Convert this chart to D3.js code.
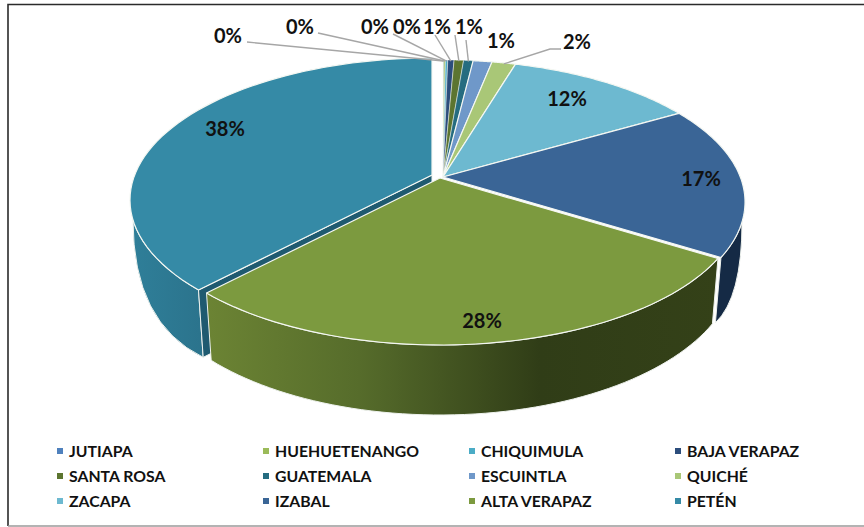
<!DOCTYPE html>
<html>
<head>
<meta charset="utf-8">
<script src="https://cdnjs.cloudflare.com/ajax/libs/d3/7.8.5/d3.min.js"></script>
<style>
    html, body { margin: 0; padding: 0; background: #fff; }
    svg { display: block; }
    text { font-family: Lato, "Noto Sans", sans-serif; font-weight: 700; fill: #111; }
    .legend text { font-size: 15.8px; }
    .pct { font-size: 20px; text-anchor: middle; }
    .leader { fill: none; stroke: #a6a6a6; stroke-width: 1.4; }
    .top { stroke: #f4f7f2; stroke-linejoin: round; }
</style>
</head>
<body>
<svg id="graph" width="864" height="527"></svg>
<script>
var departments = ["JUTIAPA", "HUEHUETENANGO", "CHIQUIMULA", "BAJA VERAPAZ", "SANTA ROSA", "GUATEMALA",
    "ESCUINTLA", "QUICHÉ", "ZACAPA", "IZABAL", "ALTA VERAPAZ", "PETÉN"];
var shares = [0.05, 0.1, 0.15, 0.4, 0.6, 0.6, 1.2, 1.5, 12, 17.3, 28.1, 38];
var colors = ["#4f81bd", "#9bbb59", "#4bacc6", "#2c4d7c", "#5c7530", "#256c80",
    "#6f98c9", "#a9c777", "#6db9d0", "#3a6596", "#7c9a3f", "#358aa6"];

var graph = (function () {
    var svg = d3.select("svg#graph"),
        center = {x: 443, y: 177},
        a = 297.3, b = 137.6, k = 0.176,   // tilted disc: widths, heights and perspective
        shrink = 0.98;

    // Layout of the data labels, same order as the slices
    var labelSpots = [
        {x: 228, y: 43, line: [[247, 42]]},
        {x: 300, y: 34, line: [[318, 33]]},
        {x: 375, y: 34, line: [[393, 34]]},
        {x: 407, y: 34, line: [[435, 35]]},
        {x: 437, y: 34, line: [[455, 35]]},
        {x: 469, y: 34, line: [[466, 40]]},
        {x: 501, y: 48, line: null},
        {x: 577, y: 49, line: [[561, 49], [550, 49]]},
        {x: 567, y: 106}, {x: 701, y: 186}, {x: 482, y: 328}, {x: 225, y: 136}
    ];

    // Slices pulled out of the pie
    var offsets = {"ALTA VERAPAZ": [-3, 1], "PETÉN": [-11, -2]};

    // side walls are a bit taller toward the viewer
    function wallDepth(angle) {
        return 60 - 10 * Math.cos(angle);
    }

    function project(angle, radius, off, low) {
        var w = 1 + k * Math.cos(angle) * radius,
            px = a * Math.sin(angle) * radius / w,
            py = -b * Math.cos(angle) * radius / w;
        if (low) {
            return [center.x + off[0] + px * shrink, center.y + off[1] + py + wallDepth(angle)];
        }
        return [center.x + off[0] + px, center.y + off[1] + py];
    }

    function rimBetween(from, to, off, low) {
        return d3.range(0, 61).map(function (i) {
            return project(from + (to - from) * i / 60, 1, off, low);
        });
    }

    function rad(deg) {
        return deg * Math.PI / 180;
    }

    function create() {
        var line = d3.line();
        var arcs = d3.pie().sort(null).value(function (d) { return d; })(shares);
        var defs = svg.append("defs");

        arcs.forEach(function (d, i) {
            d.name = departments[i];
            d.off = offsets[d.name] || [0, 0];
            d.color = colors[i];
        });

        var izabal = arcs[9], alta = arcs[10], peten = arcs[11];

        function gradient(id, x1, x2, stops) {
            var g = defs.append("linearGradient").attr("id", id)
                .attr("gradientUnits", "userSpaceOnUse")
                .attr("x1", x1).attr("x2", x2).attr("y1", 0).attr("y2", 0);
            stops.forEach(function (s) {
                g.append("stop").attr("offset", s[0]).attr("stop-color", s[1]);
            });
        }
        gradient("wallAlta", 205, 720, [[0, "#6c8434"], [0.3, "#566c2b"], [0.65, "#303d17"], [1, "#344118"]]);
        gradient("wallPeten", 130, 205, [[0, "#2f7f99"], [1, "#2b738c"]]);

        function wall(d, fill) {
            var pts = rimBetween(d.startAngle, d.endAngle, d.off, false)
                .concat(rimBetween(d.startAngle, d.endAngle, d.off, true).reverse());
            svg.append("path").attr("d", line(pts) + "Z").attr("fill", fill)
                .attr("stroke", "#eef2ee").attr("stroke-width", 1);
        }

        // wall that runs out at the side of the pie: outer edge is one curve from the
        // bottom corner back up to the rim
        function sideWall(d, fill, cornerAngle, sideAngle) {
            var corner = project(cornerAngle, 1, d.off, true),
                side = project(sideAngle, 1, d.off, false),
                path = d3.path();
            rimBetween(sideAngle, cornerAngle, d.off, false).forEach(function (p, i) {
                if (i === 0) {
                    path.moveTo(p[0], p[1]);
                } else {
                    path.lineTo(p[0], p[1]);
                }
            });
            path.lineTo(corner[0], corner[1]);
            path.quadraticCurveTo(side[0], side[1] + 0.75 * (corner[1] - side[1]), side[0], side[1]);
            path.closePath();
            svg.append("path").attr("d", path.toString()).attr("fill", fill)
                .attr("stroke", "#eef2ee").attr("stroke-width", 1);
        }

        sideWall(peten, "url(#wallPeten)", peten.startAngle, rad(252));
        sideWall(izabal, "#152a45", izabal.endAngle, rad(108));

        // cut face of Petén that shows between it and Alta Verapaz
        var face = [
            project(0, 0, peten.off, false),
            project(peten.startAngle, 1, peten.off, false),
            project(peten.startAngle, 1, peten.off, true),
            project(peten.startAngle, 0, peten.off, true)
        ];
        svg.append("path").attr("d", line(face) + "Z").attr("fill", "#1f5a70")
            .attr("stroke", "#eef2ee").attr("stroke-width", 1);

        wall(alta, "url(#wallAlta)");

        // top faces
        svg.selectAll("path.top")
            .data(arcs)
            .enter().append("path")
            .attr("class", "top")
            .attr("fill", function (d) { return d.color; })
            .attr("stroke-width", function (d) { return d.value < 1 ? 0.5 : 1.2; })
            .attr("d", function (d) {
                return line([project(0, 0, d.off, false)]
                    .concat(rimBetween(d.startAngle, d.endAngle, d.off, false))) + "Z";
            });

        // leaders
        arcs.forEach(function (d, i) {
            var spot = labelSpots[i];
            if (spot.line) {
                var mid = (d.startAngle + d.endAngle) / 2;
                var end = project(mid, 1, d.off, false);
                svg.append("path").attr("class", "leader")
                    .attr("d", line(spot.line.concat([[end[0], end[1] + 1]])));
            }
            svg.append("text").attr("class", "pct")
                .attr("x", spot.x).attr("y", spot.y)
                .text(Math.round(d.value) + "%");
        });

        // Legend
        var col = d3.scaleOrdinal().domain([0, 1, 2, 3]).range([57, 263, 469, 675]),
            row = d3.scaleOrdinal().domain([0, 1, 2]).range([451, 476, 501]);

        var items = svg.append("g").attr("class", "legend")
            .selectAll("g").data(departments).enter().append("g")
            .attr("transform", function (d, i) {
                return "translate(" + col(i % 4) + "," + row(Math.floor(i / 4)) + ")";
            });
        items.append("rect").attr("x", 0).attr("y", -3).attr("width", 6).attr("height", 6)
            .attr("fill", function (d, i) { return colors[i]; });
        items.append("text").attr("x", 12).attr("y", 5.5).text(function (d) { return d; });

        // Chart frame: open on the right, as in the screenshot
        svg.append("path").attr("d", "M864,4.5H8V526").attr("fill", "none")
            .attr("stroke", "#2b2b2b").attr("stroke-width", 1.6);
        svg.append("path").attr("d", "M8,526H864").attr("fill", "none")
            .attr("stroke", "#9a9a9a").attr("stroke-width", 1.5);
    }

    return {create: create};
})();

graph.create();
</script>
</body>
</html>
